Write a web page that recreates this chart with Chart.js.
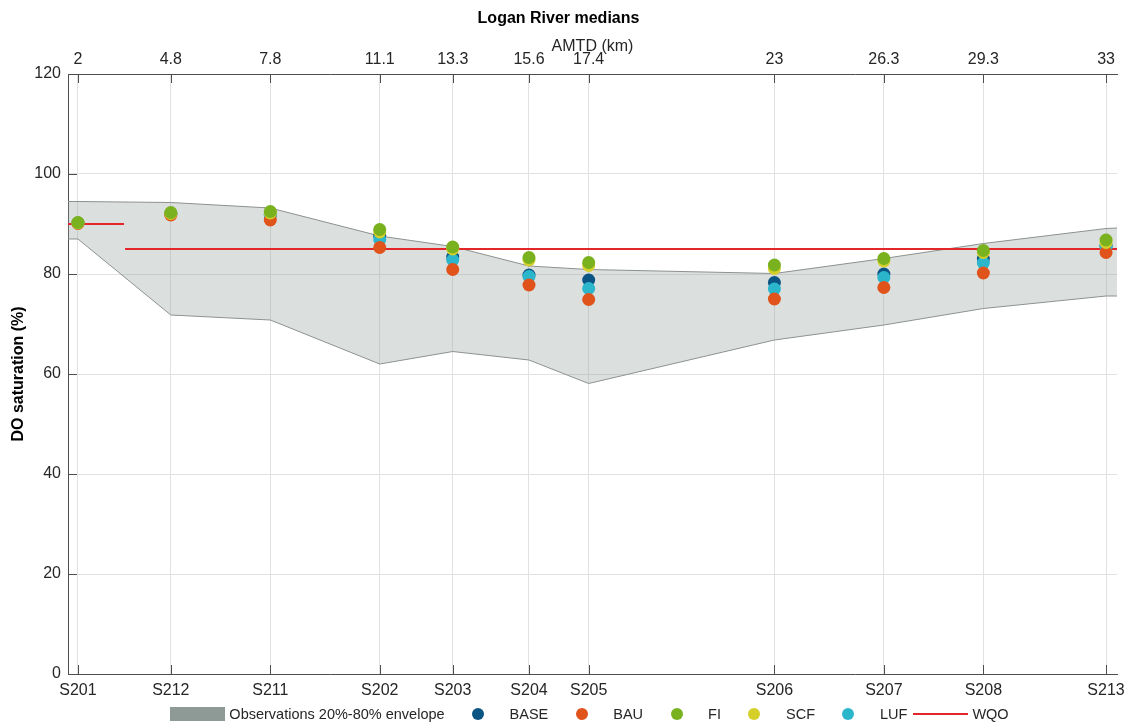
<!DOCTYPE html>
<html>
<head>
<meta charset="utf-8">
<title>Logan River medians</title>
<script src="https://cdn.jsdelivr.net/npm/chart.js@4/dist/chart.umd.min.js"></script>
<style>
  body { margin: 0; background: #fff; font-family: "Liberation Sans", Arial, sans-serif; }
  #caixa { position: relative; width: 1138px; height: 722px; }
  #legenda { position: absolute; left: 68px; width: 1049px; top: 705px; height: 17px;
             display: flex; justify-content: center; align-items: center;
             font-size: 14.5px; color: #262626; }
  .item { display: flex; align-items: center; margin-right: 6px; }
  .icone { width: 55px; height: 16px; display: flex; align-items: center; justify-content: center; }
  .txt { margin-left: 4px; white-space: nowrap; }
  .faixa { width: 55px; height: 14px; background: #8e9a96; }
  .ponto { width: 12px; height: 12px; border-radius: 50%; }
  .linha { width: 55px; height: 2px; background: #e3262a; }
</style>
</head>
<body>
<div id="caixa">
  <canvas id="grafico" width="1138" height="722"></canvas>
  <div id="legenda"></div>
</div>
<script>
// DADOS
let sites = ["S201", "S212", "S211", "S202", "S203", "S204", "S205", "S206", "S207", "S208", "S213"];
let amtd = [2, 4.8, 7.8, 11.1, 13.3, 15.6, 17.4, 23, 26.3, 29.3, 33];

let base = [90.2, 92.0, 91.9, 87.6, 83.4, 79.8, 78.8, 78.3, 80.0, 83.1, 85.6];
let bau  = [90.1, 91.8, 90.8, 85.3, 80.9, 77.8, 74.9, 75.0, 77.3, 80.2, 84.3];
let fi   = [90.3, 92.3, 92.5, 88.9, 85.4, 83.3, 82.3, 81.8, 83.1, 84.7, 86.8];
let scf  = [90.2, 92.1, 92.2, 88.4, 85.0, 82.8, 81.7, 81.1, 82.6, 84.3, 86.3];
let luf  = [90.2, 92.0, 91.8, 86.9, 82.8, 79.5, 77.1, 77.0, 79.3, 82.2, 85.4];

// envelope 20%-80% (km, baixo, alto)
let envKm   = [1.7, 2, 4.8, 7.8, 11.1, 13.3, 15.6, 17.4, 23, 26.3, 29.3, 33, 33.33];
let envLow  = [87, 87, 71.8, 70.8, 62, 64.5, 62.8, 58.1, 66.8, 69.8, 73.1, 75.6, 75.6];
let envHigh = [94.5, 94.5, 94.3, 93.2, 87.6, 85.5, 81.6, 80.9, 80.1, 83.1, 86.1, 89.1, 89.2];

// objetivo de qualidade (WQO)
let wqoKm = [1.7, 3.39, 3.4, 3.42, 33.33];
let wqoY  = [90, 90, null, 85, 85];

let yTicks = [0, 20, 40, 60, 80, 100, 120];

let series = [
  { nome: "BASE", valores: base, cor: "#0b5585", ordem: 5 },
  { nome: "BAU",  valores: bau,  cor: "#e0531b", ordem: 3 },
  { nome: "FI",   valores: fi,   cor: "#79b11f", ordem: 1 },
  { nome: "SCF",  valores: scf,  cor: "#d5cf2a", ordem: 2 },
  { nome: "LUF",  valores: luf,  cor: "#2cb6cc", ordem: 4 }
];

function pontos(xs, ys) {
  return xs.map((x, i) => ({ x: x, y: ys[i] }));
}

Chart.defaults.font.family = '"Liberation Sans", Arial, sans-serif';
Chart.defaults.color = "#262626";

// TICKS PARA DENTRO
const ticksInternos = {
  id: "ticksInternos",
  afterDraw(chart) {
    let ctx = chart.ctx;
    let area = chart.chartArea;
    let x = chart.scales.x;
    let y = chart.scales.y;
    ctx.save();
    ctx.strokeStyle = "#4d4d4d";
    ctx.lineWidth = 1;
    ctx.beginPath();
    x.ticks.forEach(t => {
      let px = Math.round(x.getPixelForValue(t.value)) + 0.5;
      ctx.moveTo(px, area.bottom); ctx.lineTo(px, area.bottom - 9);
      ctx.moveTo(px, area.top); ctx.lineTo(px, area.top + 9);
    });
    y.ticks.forEach(t => {
      let py = Math.round(y.getPixelForValue(t.value)) + 0.5;
      ctx.moveTo(area.left, py); ctx.lineTo(area.left + 9, py);
    });
    ctx.stroke();
    ctx.restore();
  }
};

// DATASETS
let datasets = [
  {
    label: "envLow", data: pontos(envKm, envLow),
    borderColor: "#8c918f", borderWidth: 1, pointRadius: 0, fill: false, order: 8
  },
  {
    label: "Observations 20%-80% envelope", data: pontos(envKm, envHigh),
    borderColor: "#8c918f", borderWidth: 1, pointRadius: 0,
    fill: "-1", backgroundColor: "rgba(142,154,150,0.32)", order: 7
  },
  {
    label: "WQO", data: pontos(wqoKm, wqoY),
    borderColor: "#e3262a", borderWidth: 2, pointRadius: 0, fill: false, order: 6
  }
];

series.forEach(s => {
  datasets.push({
    label: s.nome,
    data: pontos(amtd, s.valores),
    showLine: false,
    pointRadius: 6.5,
    pointHoverRadius: 6.5,
    pointBorderWidth: 0,
    pointBackgroundColor: s.cor,
    borderColor: s.cor,
    backgroundColor: s.cor,
    order: s.ordem
  });
});

// GRÁFICO
let ctx = document.getElementById("grafico").getContext("2d");
let grafico = new Chart(ctx, {
  type: "line",
  data: { datasets: datasets },
  plugins: [ticksInternos],
  options: {
    responsive: false,
    animation: false,
    devicePixelRatio: 1,
    layout: { padding: { left: 0, right: 21, top: 0, bottom: 22 } },
    plugins: {
      legend: { display: false },
      tooltip: { enabled: false },
      title: {
        display: true,
        text: "Logan River medians",
        color: "#000",
        font: { size: 16, weight: "bold" },
        padding: { top: 9, bottom: 0 }
      }
    },
    scales: {
      x: {
        type: "linear",
        position: "bottom",
        min: 1.7,
        max: 33.33,
        afterBuildTicks: s => { s.ticks = amtd.map(v => ({ value: v })); },
        afterFit: s => { s.height = 26; },
        ticks: {
          autoSkip: false,
          maxRotation: 0,
          padding: 7,
          font: { size: 16 },
          callback: (v, i) => sites[i]
        },
        grid: { color: "#e2e2e2", drawTicks: false },
        border: { color: "#4d4d4d" }
      },
      x2: {
        type: "linear",
        position: "top",
        min: 1.7,
        max: 33.33,
        afterBuildTicks: s => { s.ticks = amtd.map(v => ({ value: v })); },
        afterFit: s => { s.height = 45.8; },
        ticks: {
          autoSkip: false,
          maxRotation: 0,
          padding: 5,
          font: { size: 16 },
          callback: (v, i) => String(amtd[i])
        },
        grid: { display: false, drawTicks: false },
        border: { display: true, color: "#4d4d4d" },
        title: {
          display: true,
          text: "AMTD (km)",
          color: "#262626",
          font: { size: 16 },
          padding: { top: 9, bottom: 0 }
        }
      },
      y: {
        min: 0,
        max: 120,
        afterBuildTicks: s => { s.ticks = yTicks.map(v => ({ value: v })); },
        afterFit: s => { s.width = 68; },
        ticks: { padding: 7, font: { size: 16 } },
        grid: { color: "#e2e2e2", drawTicks: false },
        border: { color: "#4d4d4d" },
        title: {
          display: true,
          text: "DO saturation (%)",
          color: "#000",
          font: { size: 16, weight: "bold" },
          padding: { top: 9, bottom: 0 }
        }
      }
    }
  }
});

// LEGENDA
function criarLegenda() {
  let leg = document.getElementById("legenda");
  let html = '<div class="item"><div class="icone"><div class="faixa"></div></div>' +
             '<span class="txt">Observations 20%-80% envelope</span></div>';
  series.forEach(s => {
    html += '<div class="item"><div class="icone"><div class="ponto" style="background:' + s.cor +
            '"></div></div><span class="txt">' + s.nome + '</span></div>';
  });
  html += '<div class="item"><div class="icone"><div class="linha"></div></div>' +
          '<span class="txt">WQO</span></div>';
  leg.innerHTML = html;
}

criarLegenda();
</script>
</body>
</html>
